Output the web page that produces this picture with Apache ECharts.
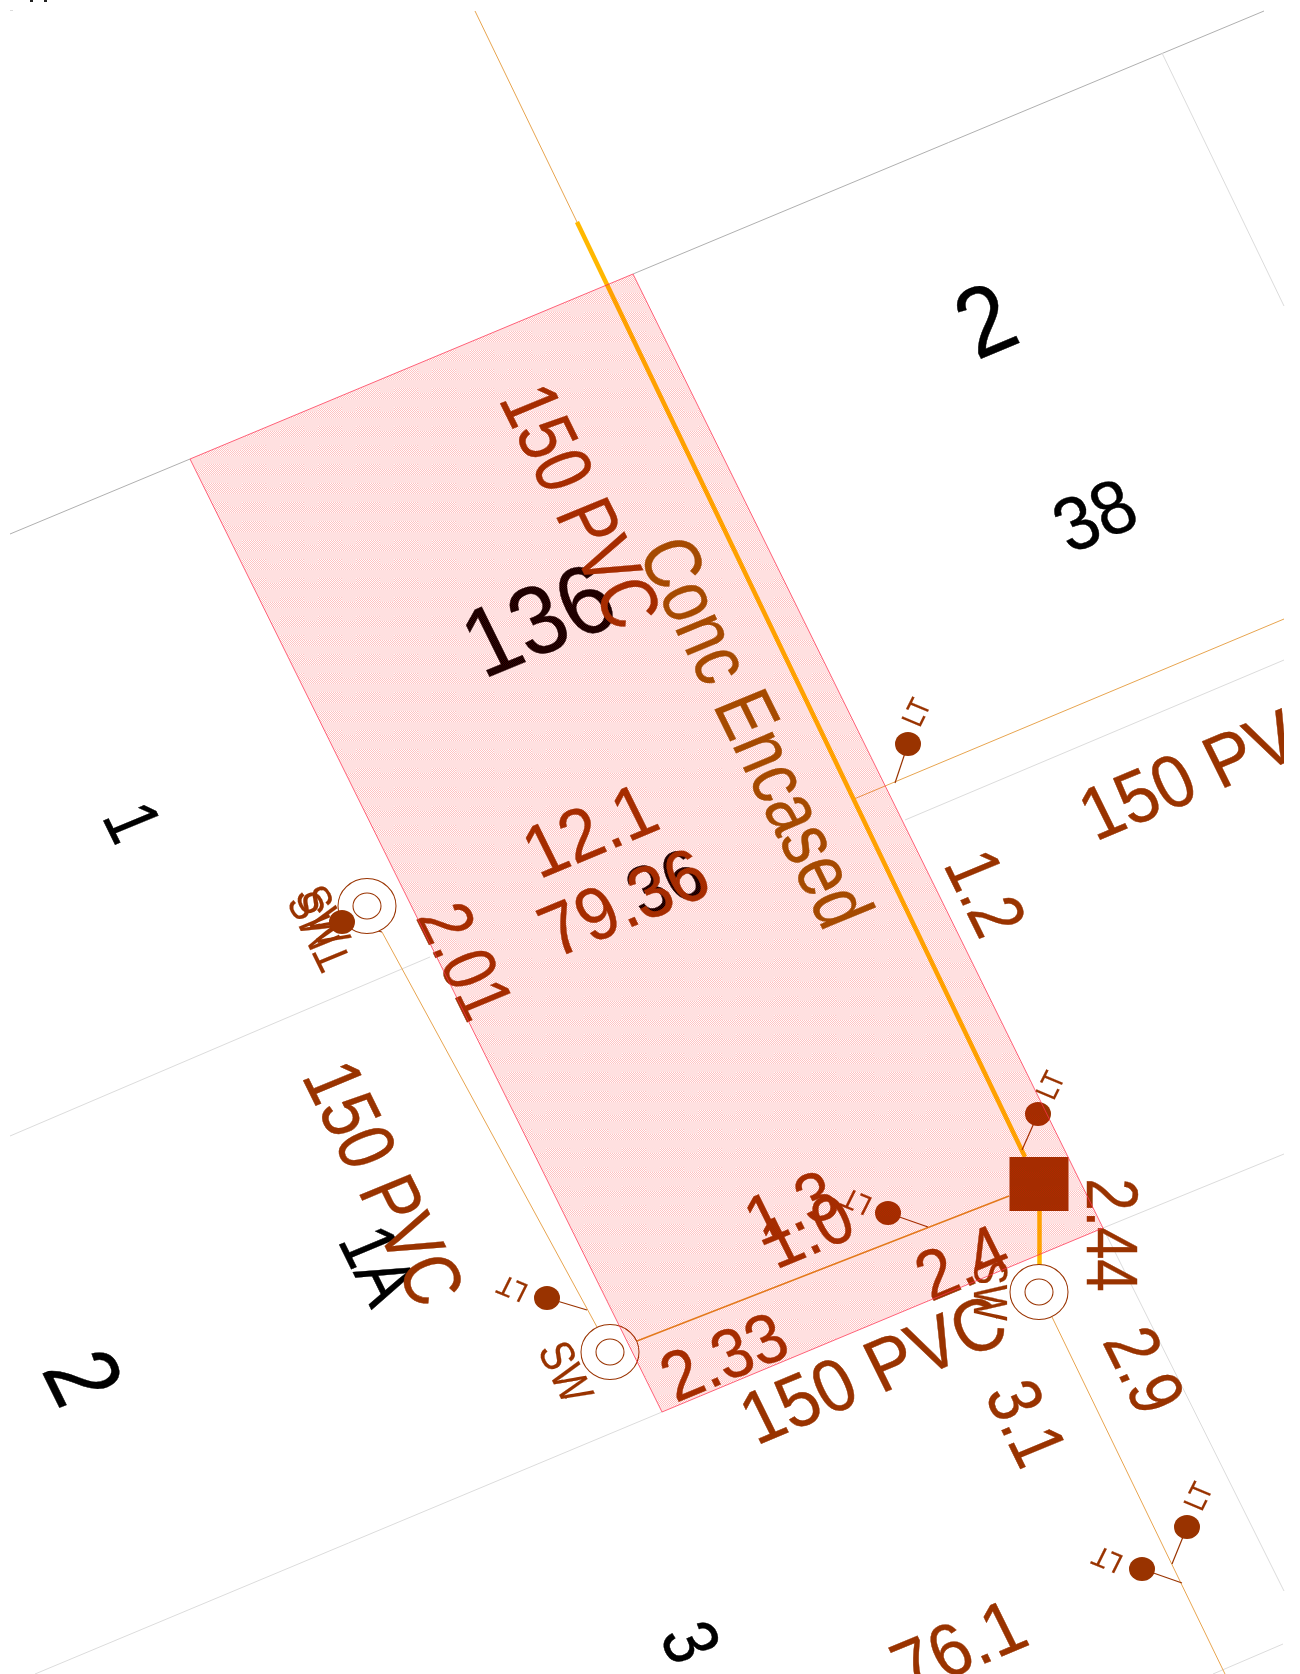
<!DOCTYPE html>
<html><head><meta charset="utf-8">
<style>html,body{margin:0;padding:0;background:#fff}#c{width:1300px;height:1674px}</style>
<script src="https://cdn.jsdelivr.net/npm/echarts@6/dist/echarts.min.js"></script>
</head><body><div id="c"></div>
<script>
// Map units are page-sized survey coordinates
const parcel = [[190,459],[633,274],[1103,1228],[662,1412]];

const boundaryDark = [[[10,534],[190,459]],[[633,274],[1264,11]]];
const boundaryLight = [[[1162,53],[1284,306]],[[905,820],[1284,660]],[[270,1025],[430,957]],[[10,1136],[270,1025]],
  [[1103,1228],[1284,1154]],[[1103,1228],[1284,1591]],[[662,1412],[35,1674]],[[1283,1644],[1213,1674]],[[10,10],[13,10]]];
const mainThin = [[[475,11],[577,222]],[[854,799],[1284,619]],[[382,932],[597,1327]],[[1052,1317],[1225,1674]]];
const mainMid = [[[637,1341],[1009,1196]]];
const mainThick = [[[577,222],[1025,1157]],[[1039,1211],[1039,1265]]];
const stems = [[[1038,1114],[1022,1150]],[[888,1213],[928,1227]],[[547,1298],[587,1310]],[[342,922],[382,932]],
  [[1187,1527],[1172,1564]],[[1142,1569],[1182,1583]],[[908,744],[895,783]]];
const topMarks = [[[31,0],[31,2]],[[45,0],[45,2]]];

const lightPoints = [[1038,1114],[888,1213],[547,1298],[342,922],[1187,1527],[1142,1569],[908,744]];
const manholes = [[367,906],[610,1352],[1039,1292]];
const chambers = [[1039,1184]];

const brownTexts = ['150 PVC','150 PVC','150 PVC','150 PVC','12.1','79.36','1.3','1.0','2.01','1.2','2.33','2.4','2.44','2.9','3.1','76.1',
  'LT','LT','LT','LT','LT','LT','SW','SW','SW','TMS'];
const brownPos = [[576,508],[379,1185],[875,1374],[1214,770],[592,835],[626,907],[793,1212],[809,1235],[461,963],[981,895],[726,1361],[964,1267],[1107,1235],[1140,1372],[1022,1425],[961,1651],
  [918,713],[1052,1086],[1200,1497],[857,1200],[513,1287],[1108,1558],[563,1373],[987,1290],[320,917],[322,930]];
const brownSize = [74,74,74,74,74,74,70,70,70,70,70,70,67,70,70,74,28,28,28,28,28,28,44,44,44,44];
const brownAngle = [-65.7,-65.7,24.4,24.4,24.4,24.4,24.4,24.4,-65.7,-65.7,24.4,24.4,-90,-65.7,-65.7,24.4,
  65.7,65.7,65.7,155.6,155.6,155.6,-65.7,-90,-65.7,114.3];

const darkTexts = ['136','2','38','1','1A','2','3','36'];
const darkPos = [[541,626],[988,326],[1097,520],[128,824],[374,1267],[77,1380],[686,1644],[667,887]];
const darkSize = [97,98,76,70,72,95,72,70];
const darkAngle = [24.4,24.4,24.4,-65.7,-65.7,-65.7,-65.7,24.4];

const noteTexts = ['Conc Encased'];
const notePos = [[751,734]];
const noteSize = [74];
const noteAngle = [-65.7];

const BROWN = '#993300', NOTE = '#995500', STRETCH = 1.09, CONDENSE = 0.87;

function hatch() {
  const w = 38, h = 19, cv = document.createElement('canvas');
  cv.width = w; cv.height = h;
  const g = cv.getContext('2d');
  for (let y = 0; y < h; y++) for (let x = 0; x < w; x++) {
    const band = y < 8 || (x < 14 && y < 13);
    const a = band ? 0.12 : ((x + y) % 2 ? 0.24 : 0.02);
    g.fillStyle = 'rgba(255,0,0,' + a + ')';
    g.fillRect(x, y, 1, 1);
  }
  return cv;
}
function segSeries(name, data, color, width, z) {
  return {name, type:'lines', coordinateSystem:'cartesian2d', polyline:false, silent:true, z,
    lineStyle:{color, width, opacity:1, curveness:0},
    data:data.map(s => ({coords:s}))};
}
function textSeries(name, texts, pos, sizes, angles, color, z) {
  return {name, type:'custom', coordinateSystem:'cartesian2d', clip:true, silent:true, z,
    data:pos.map(p => [p[0], p[1]]),
    renderItem(params, api) {
      const i = params.dataIndex, c = api.coord([api.value(0), api.value(1)]);
      return {type:'group', x:c[0], y:c[1], scaleX:STRETCH, scaleY:1, children:[{
        type:'text', rotation:angles[i] * Math.PI / 180, scaleX:CONDENSE, scaleY:1,
        style:{text:texts[i], fill:color, stroke:color, lineWidth:sizes[i] > 50 ? 0.4 : 0.2,
          font:sizes[i] + 'px "Liberation Sans", Arial, sans-serif',
          align:'center', verticalAlign:'middle'}
      }]};
    }};
}
const chart = echarts.init(document.getElementById('c'), null, {renderer:'canvas'});
chart.setOption({
  animation:false, backgroundColor:'#fff',
  grid:{left:10, right:16, top:0, bottom:0},
  xAxis:{type:'value', min:10, max:1284, show:false},
  yAxis:{type:'value', min:0, max:1674, inverse:true, show:false},
  series:[
    segSeries('boundaryDark', boundaryDark, '#b0b0b0', 1, 1),
    segSeries('boundaryLight', boundaryLight, '#dcdcdc', 1, 1),
    segSeries('mainThin', mainThin, '#e8a550', 1, 2),
    segSeries('mainMid', mainMid, '#e08a20', 1.4, 2),
    segSeries('mainThick', mainThick, '#ffb800', 4.5, 3),
    segSeries('stems', stems, BROWN, 1.2, 3),
    segSeries('topMarks', topMarks, '#222', 3, 3),
    textSeries('darkLabels', darkTexts, darkPos, darkSize, darkAngle, '#000', 4),
    textSeries('brownLabels', brownTexts, brownPos, brownSize, brownAngle, BROWN, 5),
    textSeries('noteLabels', noteTexts, notePos, noteSize, noteAngle, NOTE, 5),
    {name:'manholeOuter', type:'scatter', data:manholes, symbol:'circle', symbolSize:[58,55], z:6, silent:true,
      itemStyle:{color:'#fff', borderColor:BROWN, borderWidth:1, opacity:1}},
    {name:'manholeInner', type:'scatter', data:manholes, symbol:'circle', symbolSize:[28,26], z:7, silent:true,
      itemStyle:{color:'#fff', borderColor:BROWN, borderWidth:1, opacity:1}},
    {name:'chamber', type:'scatter', data:chambers, symbol:'rect', symbolSize:[59,54], z:7, silent:true,
      itemStyle:{color:BROWN, opacity:1}},
    {name:'lights', type:'scatter', data:lightPoints, symbol:'circle', symbolSize:[26,24], z:7, silent:true,
      itemStyle:{color:BROWN, opacity:1}},
    {name:'parcel', type:'custom', coordinateSystem:'cartesian2d', silent:true, z:10, data:[0],
      renderItem(params, api) {
        return {type:'polygon', shape:{points:parcel.map(p => api.coord(p))},
          style:{fill:{image:hatch(), repeat:'repeat'}, stroke:'rgba(255,50,80,0.75)', lineWidth:1}};
      }}
  ]
});
</script></body></html>
